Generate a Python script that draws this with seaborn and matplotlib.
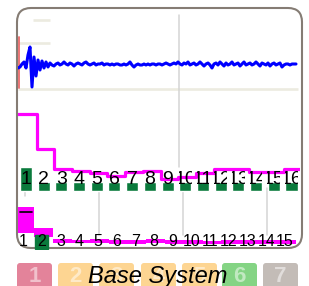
import numpy as np
import matplotlib
matplotlib.use("Agg")
from matplotlib import pyplot as plt
from matplotlib.patches import FancyBboxPatch, Rectangle
from matplotlib.transforms import Bbox, TransformedBbox
import seaborn as sns

sns.set_style("white")
plt.rcParams["font.family"] = ["Liberation Sans", "DejaVu Sans"]

# --- data ---
# top trace (one sample every 2 px), amplitude in px above the baseline
signal = [
    -3, -2, 1, 3, -3, 10, 18, -22, 8, -11,
    5, -5, 4, -3, 3, -2, 2, 0, -1,
    1, 2, 0, 1, 3, 1, 0, 2, 1, -1,
    1, 2, 1, 0, 2, 3, 1, 0, 1, 2,
    0, 1, 1, 2, 0, 1, 1, 0, 1, 0,
    1, 1, 0, 0, 1, 0, 1, 3, 0, -2,
    0, 1, 0, 0, 1, 0, 1, 0, 1, 1,
    0, 1, 1, 0, 1, 2, 1, 0, 1, 2,
    1, 3, 1, 0, 2, 1, 3, 0, 1, 2,
    0, 1, 3, 1, -1, 1, 2, 0, -3, 1,
    2, 0, 3, 1, -1, 2, 0, 1, 3, 0,
    1, 2, -1, 1, 3, 0, 1, 2, 0, 1,
    3, 1, -1, 2, 1, 0, 2, -1, 1, 2,
    0, 1, 2, -2, 0, 1, 1, 0, 1, 1, 1,
]
# middle row: 16 blocks, step level per block
mid_labels = [str(i) for i in range(1, 17)]
mid_levels = [75, 40, 20, 18, 16, 13, 17, 18, 10, 12, 16, 20, 20, 17, 17, 20]
mid_selected = ["1"]
# lower row: 15 blocks, band top and bottom per block
low_labels = [str(i) for i in range(1, 16)]
low_top = [41, 20, 9, 8, 9, 8, 8, 9, 8, 8, 7, 8, 8, 8, 8]
low_bottom = [15, 11, 5, 5, 5, 4, 4, 5, 4, 4, 4, 4, 4, 4, 4]
low_selected = ["2"]
# bottom tabs
tab_labels = ["1", "2", "3", "4", "5", "6", "7"]
tab_colors = ["#e3839a", "#fdd592", "#fdd592", "#fdd592", "#fdd592", "#84d484", "#c3bcb7"]
title = "Base System"

W, H = 309, 286
fig = plt.figure(figsize=(W / 100, H / 100), dpi=100)


def px_axes(x0, y0, x1, y1, z=1):
    ax = fig.add_axes([x0 / W, 1 - y1 / H, (x1 - x0) / W, (y1 - y0) / H], zorder=z)
    ax.set_facecolor("none")
    ax.axis("off")
    return ax


def clipped_text(ax, x, y, s, half, **kw):
    txt = ax.text(x, y, s, ha="center", va="center", color="black", **kw)
    txt.set_clip_box(TransformedBbox(Bbox([[x - half, -10], [x + half, 100]]), ax.transData))
    txt.set_clip_on(True)
    return txt


# chrome drawn in pixel space
bg = px_axes(0, 0, W, H, z=0)
bg.set_xlim(0, W)
bg.set_ylim(H, 0)
bg.add_patch(FancyBboxPatch((17, 8), 285, 240, boxstyle="round,pad=0,rounding_size=14",
                            fc="white", ec="#857c74", lw=1.5))
for x0, x1, y in [(33, 50, 20), (18, 50, 43), (18, 298, 89)]:
    bg.plot([x0, x1], [y, y], color="#ecebe0", lw=1.9, solid_capstyle="butt")
bg.plot([18.5, 18.5], [37, 88], color="#ea6a6a", lw=1.3)
bg.plot([179, 179], [15, 167], color="#d4d4d4", lw=1.1)
bg.plot([25, 25], [188, 196], color="#d4d4d4", lw=1.1)
for x in [99, 183, 267]:
    bg.plot([x, x], [188, 235], color="#d4d4d4", lw=1.1)

# bottom tabs
tab_x = [17, 58, 99, 141, 182, 222, 263]
for x0, lab, c in zip(tab_x, tab_labels, tab_colors):
    bg.add_patch(FancyBboxPatch((x0, 263), 35, 30, boxstyle="round,pad=0,rounding_size=3",
                                fc=c, ec="none"))
    bg.text(x0 + 17.5, 277, lab, ha="center", va="center", fontsize=16,
            fontweight="bold", color="white", alpha=0.5)
bg.text(158, 283, title, ha="center", va="baseline", fontsize=17,
        style="italic", color="black")

# top trace
top = px_axes(18, 15, 298, 92, z=2)
t = np.arange(len(signal))
sns.lineplot(x=t, y=signal, ax=top, color="#0000ff", lw=2.2)
top.set_xlim(0, 140)
top.set_ylim(-27, 50)

# middle row
mid = px_axes(18, 100, 300, 193, z=2)
n = len(mid_levels)
edges = np.r_[0.55, np.arange(1, n) + 0.6, n + 0.6]
sns.lineplot(x=edges, y=mid_levels + [mid_levels[-1]], ax=mid, color="#ff00ff",
             lw=2.3, drawstyle="steps-post", zorder=2)
pos = np.arange(1, n + 1)
tops = np.array([22 if lab in mid_selected else 7 for lab in mid_labels])
mid.bar(pos, tops + 2, bottom=-2, width=0.68, color="#0a7a3c", zorder=1)
for p, lab in zip(pos, mid_labels):
    clipped_text(mid, p, 9, lab, 0.36, fontsize=14, zorder=3)
mid.set_xlim(0.55, 16.48)
mid.set_ylim(-4, 89)

# lower row
low = px_axes(18, 195, 298, 250, z=2)
m = len(low_top)
ledges = np.r_[0.7, np.arange(1, m) + 0.6, m + 0.6]
low.fill_between(ledges, low_bottom + [low_bottom[-1]], low_top + [low_top[-1]],
                 step="post", color="#ff00ff", lw=0, zorder=1)
low.plot([0.84, 1.48], [36, 36], color="black", lw=1.2, zorder=2)
lpos = np.arange(1, m + 1)
for p, lab in zip(lpos, low_labels):
    if lab in low_selected:
        low.add_patch(Rectangle((p - 0.36, -1), 0.72, 14, color="#0a7a3c", zorder=2))
    clipped_text(low, p, 7, lab, 0.4, fontsize=11.5, zorder=3)
low.set_xlim(0.73, 15.7)
low.set_ylim(-2, 53)

fig.savefig("out.png", dpi=100)
